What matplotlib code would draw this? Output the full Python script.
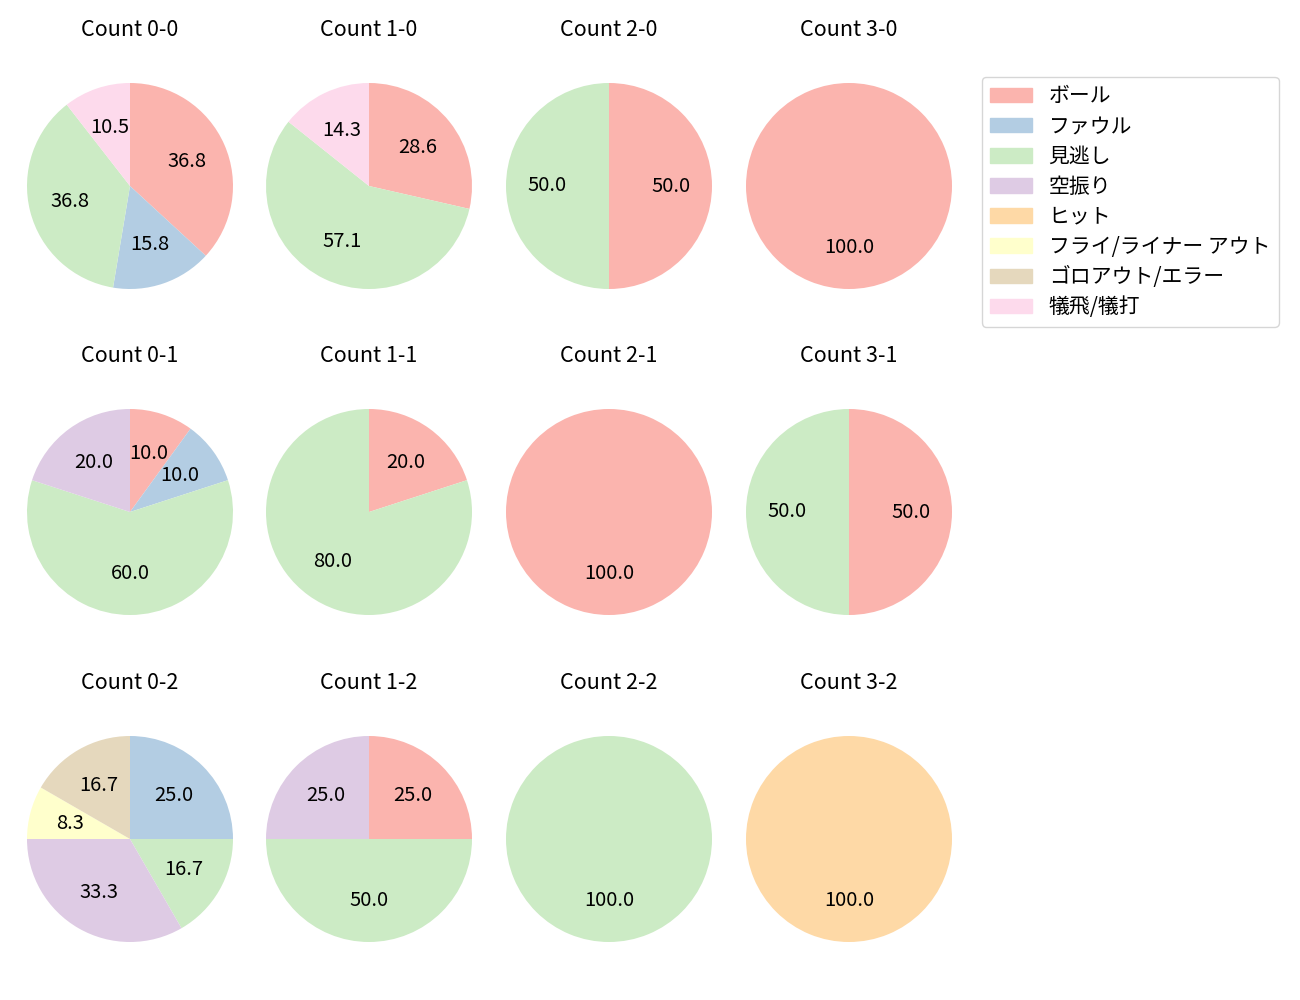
import matplotlib
matplotlib.use("Agg")
import matplotlib.pyplot as plt
from matplotlib.patches import Patch

plt.rcParams["font.family"] = ["Noto Sans CJK JP", "DejaVu Sans"]

CATEGORIES = ["ボール", "ファウル", "見逃し", "空振り", "ヒット",
              "フライ/ライナー アウト", "ゴロアウト/エラー", "犠飛/犠打"]
COLORS = ["#fbb4ae", "#b3cde3", "#ccebc5", "#decbe4", "#fed9a6",
          "#ffffcc", "#e5d8bd", "#fddaec"]

# pitch counts per ball-strike count, in CATEGORIES order
count_0_0 = [7, 3, 7, 0, 0, 0, 0, 2]
count_1_0 = [2, 0, 4, 0, 0, 0, 0, 1]
count_2_0 = [1, 0, 1, 0, 0, 0, 0, 0]
count_3_0 = [1, 0, 0, 0, 0, 0, 0, 0]
count_0_1 = [1, 1, 6, 2, 0, 0, 0, 0]
count_1_1 = [1, 0, 4, 0, 0, 0, 0, 0]
count_2_1 = [1, 0, 0, 0, 0, 0, 0, 0]
count_3_1 = [1, 0, 1, 0, 0, 0, 0, 0]
count_0_2 = [0, 3, 2, 4, 0, 1, 2, 0]
count_1_2 = [1, 0, 2, 1, 0, 0, 0, 0]
count_2_2 = [0, 0, 1, 0, 0, 0, 0, 0]
count_3_2 = [0, 0, 0, 0, 1, 0, 0, 0]

GRID = [
    [("0-0", count_0_0), ("1-0", count_1_0), ("2-0", count_2_0), ("3-0", count_3_0)],
    [("0-1", count_0_1), ("1-1", count_1_1), ("2-1", count_2_1), ("3-1", count_3_1)],
    [("0-2", count_0_2), ("1-2", count_1_2), ("2-2", count_2_2), ("3-2", count_3_2)],
]

W, H = 1300, 1000
COL_X = [130, 369, 609, 849]
ROW_Y = [186, 512, 839]
R_PX = 103
LIM = 1.25
SIDE = 2 * R_PX * LIM

fig = plt.figure(figsize=(13, 10), dpi=100)

for r, row in enumerate(GRID):
    for c, (name, vals) in enumerate(row):
        cx, cy = COL_X[c], ROW_Y[r]
        ax = fig.add_axes([(cx - SIDE / 2) / W, 1 - (cy + SIDE / 2) / H,
                           SIDE / W, SIDE / H])
        sizes = [v for v in vals if v > 0]
        cols = [COLORS[i] for i, v in enumerate(vals) if v > 0]
        ax.pie(sizes, colors=cols, startangle=90, counterclock=False,
               autopct="%.1f", textprops={"fontsize": 14.5})
        ax.set_xlim(-LIM, LIM)
        ax.set_ylim(-LIM, LIM)
        ax.set_aspect("equal")
        ax.set_title(f"Count {name}", fontsize=15.5, pad=15)

handles = [Patch(color=col, label=lab) for col, lab in zip(COLORS, CATEGORIES)]
fig.legend(handles=handles, loc="upper left", fontsize=15, labelspacing=0.39,
           bbox_to_anchor=(982 / W, 1 - 77 / H), borderaxespad=0)

fig.savefig("out.png", dpi=100)
plt.close(fig)
